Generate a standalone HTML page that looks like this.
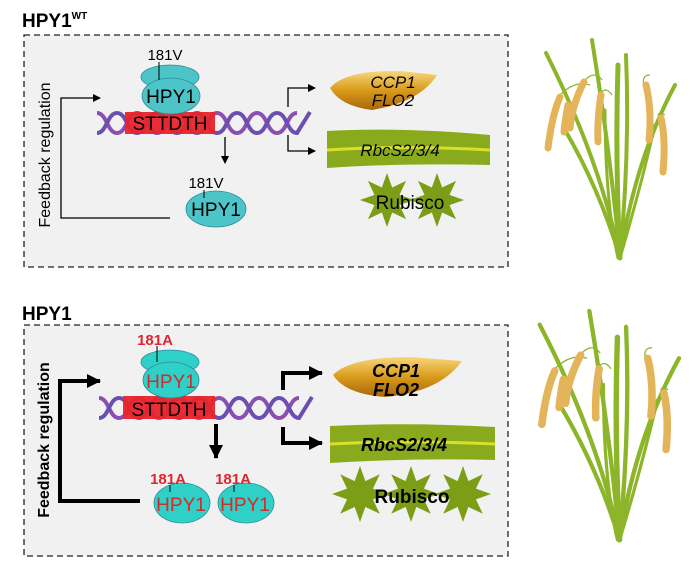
<!DOCTYPE html>
<html><head><meta charset="utf-8"><style>
html,body{margin:0;padding:0;background:#fff;}
svg{display:block;font-family:"Liberation Sans",Arial,sans-serif;}
</style></head><body>
<svg width="700" height="574" viewBox="0 0 700 574" xmlns="http://www.w3.org/2000/svg">
<defs>
<polygon id="star" points="1,0 .462,.191 .707,.707 .191,.462 0,1 -.191,.462 -.707,.707 -.462,.191 -1,0 -.462,-.191 -.707,-.707 -.191,-.462 0,-1 .191,-.462 .707,-.707 .462,-.191"/>
<linearGradient id="seed" x1="0" y1="0" x2="0" y2="1">
<stop offset="0" stop-color="#f7d77a"/><stop offset="0.5" stop-color="#d99a1a"/><stop offset="1" stop-color="#a8670a"/>
</linearGradient>
<marker id="ah" markerWidth="8" markerHeight="8" refX="7" refY="4" orient="auto" markerUnits="userSpaceOnUse"><path d="M0,0 L8,4 L0,8 Z" fill="#000"/></marker>
<marker id="ahb" markerWidth="14" markerHeight="14" refX="13" refY="7" orient="auto" markerUnits="userSpaceOnUse"><path d="M0,0 L14,7 L0,14 Z" fill="#000"/></marker>
<g id="dna">
<path d="M97,113 C107,113 107,133 117,133 S127,113 137,113 S147,133 157,133 S167,113 177,113 S187,133 197,133 S207,113 217,113 S227,133 237,133 S247,113 257,113 S267,133 277,133 S287,113 297,113" fill="none" stroke="#8a4fb0" stroke-width="4"/>
<path d="M97,133 C107,133 107,113 117,113 S127,133 137,133 S147,113 157,113 S167,133 177,133 S187,113 197,113 S207,133 217,133 S227,113 237,113 S247,133 257,133 S267,113 277,113 S287,133 297,133 L310,112" fill="none" stroke="#6a4fb0" stroke-width="4"/>
</g>
<g id="plant">
<g fill="none" stroke="#8db52a" stroke-linecap="round">
<path d="M620,258 Q600,160 546,53" stroke-width="4"/>
<path d="M620,258 Q610,150 592,40" stroke-width="4"/>
<path d="M620,258 Q615,160 618,65" stroke-width="5"/>
<path d="M620,258 Q630,150 626,55" stroke-width="4"/>
<path d="M620,258 Q635,160 675,85" stroke-width="4"/>
<path d="M620,258 Q600,190 565,130" stroke-width="4"/>
<path d="M620,258 Q640,190 655,125" stroke-width="3"/>
<path d="M618,258 Q605,200 605,110" stroke-width="3"/>
</g>
<g fill="none" stroke="#8db52a" stroke-width="1.2">
<path d="M560,95 Q575,80 590,85"/><path d="M585,80 Q595,70 602,80"/><path d="M600,95 Q605,85 612,95"/><path d="M645,90 Q640,75 650,75"/><path d="M660,120 Q655,110 665,115"/>
</g>
<g fill="none" stroke="#e4b45a" stroke-width="7" stroke-linecap="round" stroke-dasharray="5,1">
<path d="M560,97 Q552,115 548,148"/>
<path d="M584,82 Q572,105 570,128"/>
<path d="M601,95 Q597,120 598,142"/>
<path d="M646,85 Q652,110 649,140"/>
<path d="M661,118 Q666,140 663,172"/>
<path d="M568,105 Q565,120 564,132"/>
</g>
</g>
</defs>

<!-- TOP PANEL -->
<text x="22" y="27" font-size="19" font-weight="bold">HPY1<tspan font-size="10" dy="-8">WT</tspan></text>
<rect x="24" y="35" width="484" height="232" fill="#f1f1f1" stroke="#222" stroke-width="1.3" stroke-dasharray="6,4"/>
<text transform="translate(50,155) rotate(-90)" text-anchor="middle" font-size="16">Feedback regulation</text>
<path d="M170,218 L61,218 L61,98 L100,98" fill="none" stroke="#000" stroke-width="1.3" marker-end="url(#ah)"/>
<use href="#dna"/>
<rect x="125" y="112" width="90" height="22" fill="#e8242a" opacity="0.95"/>
<text x="170" y="130" text-anchor="middle" font-size="19">STTDTH</text>
<ellipse cx="170" cy="77" rx="29" ry="12" fill="#4dc5c8" stroke="#2c8c99" stroke-width="0.8"/>
<ellipse cx="171" cy="96" rx="29" ry="18" fill="#4dc5c8" stroke="#2c8c99" stroke-width="0.8"/>
<line x1="159" y1="62" x2="159" y2="80" stroke="#000" stroke-width="1"/>
<text x="165" y="60" text-anchor="middle" font-size="15">181V</text>
<text x="171" y="103" text-anchor="middle" font-size="19">HPY1</text>
<line x1="225" y1="137" x2="225" y2="163" stroke="#000" stroke-width="1.3" marker-end="url(#ah)"/>
<ellipse cx="216" cy="209" rx="30" ry="18" fill="#4dc5c8" stroke="#2c8c99" stroke-width="0.8"/>
<line x1="204" y1="190" x2="204" y2="198" stroke="#000"/>
<text x="206" y="188" text-anchor="middle" font-size="15">181V</text>
<text x="216" y="216" text-anchor="middle" font-size="19">HPY1</text>
<path d="M288,107 L288,88 L315,88" fill="none" stroke="#000" stroke-width="1.3" marker-end="url(#ah)"/>
<path d="M288,135 L288,151 L315,151" fill="none" stroke="#000" stroke-width="1.3" marker-end="url(#ah)"/>
<path d="M330,88 Q345,70 400,71 L437,75 Q420,102 372,110 Q340,106 330,88 Z" fill="url(#seed)"/>
<text x="393" y="88" text-anchor="middle" font-size="17" font-style="italic">CCP1</text>
<text x="393" y="106" text-anchor="middle" font-size="17" font-style="italic">FLO2</text>
<path d="M327,131 Q400,127 490,135 L490,165 Q400,163 327,168 Z" fill="#8aaa1e"/>
<path d="M327,150 Q400,145 490,150" stroke="#d8e02a" stroke-width="3" fill="none"/>
<text x="400" y="156" text-anchor="middle" font-size="17" font-style="italic">RbcS2/3/4</text>
<use href="#star" transform="translate(387,200) scale(27)" fill="#7c9e17"/>
<use href="#star" transform="translate(437,200) scale(27)" fill="#7c9e17"/>
<text x="410" y="209" text-anchor="middle" font-size="19">Rubisco</text>
<use href="#plant"/>

<!-- BOTTOM PANEL -->
<text x="22" y="320" font-size="19" font-weight="bold">HPY1</text>
<rect x="24" y="325" width="484" height="231" fill="#f1f1f1" stroke="#222" stroke-width="1.3" stroke-dasharray="6,4"/>
<text transform="translate(49,440) rotate(-90)" text-anchor="middle" font-size="16" font-weight="bold">Feedback regulation</text>
<path d="M140,501 L60,501 L60,381 L100,381" fill="none" stroke="#000" stroke-width="4" marker-end="url(#ahb)"/>
<use href="#dna" transform="translate(2,285)"/>
<rect x="123" y="396" width="92" height="23" fill="#e8242a" opacity="0.95"/>
<text x="169" y="416" text-anchor="middle" font-size="19">STTDTH</text>
<ellipse cx="170" cy="362" rx="29" ry="12" fill="#2fd0c8" stroke="#2c8c99" stroke-width="0.8"/>
<ellipse cx="171" cy="380" rx="28" ry="18" fill="#2fd0c8" stroke="#2c8c99" stroke-width="0.8"/>
<line x1="157" y1="346" x2="157" y2="362" stroke="#000"/>
<text x="155" y="345" text-anchor="middle" font-size="15" font-weight="bold" fill="#e02530">181A</text>
<text x="171" y="388" text-anchor="middle" font-size="19" fill="#d42a2a">HPY1</text>
<line x1="216" y1="424" x2="216" y2="458" stroke="#000" stroke-width="4" marker-end="url(#ahb)"/>
<ellipse cx="182" cy="503" rx="28" ry="20" fill="#2fd0c8" stroke="#2c8c99" stroke-width="0.8"/>
<ellipse cx="246" cy="503" rx="28" ry="20" fill="#2fd0c8" stroke="#2c8c99" stroke-width="0.8"/>
<line x1="170" y1="485" x2="170" y2="492" stroke="#000"/>
<line x1="234" y1="485" x2="234" y2="492" stroke="#000"/>
<text x="168" y="484" text-anchor="middle" font-size="15" font-weight="bold" fill="#e02530">181A</text>
<text x="233" y="484" text-anchor="middle" font-size="15" font-weight="bold" fill="#e02530">181A</text>
<text x="181" y="511" text-anchor="middle" font-size="19" fill="#d42a2a">HPY1</text>
<text x="245" y="511" text-anchor="middle" font-size="19" fill="#d42a2a">HPY1</text>
<path d="M283,390 L283,373 L322,373" fill="none" stroke="#000" stroke-width="4" marker-end="url(#ahb)"/>
<path d="M283,427 L283,443 L322,443" fill="none" stroke="#000" stroke-width="4" marker-end="url(#ahb)"/>
<path d="M333,375 Q350,357 410,357 L462,361 Q440,392 385,397 Q345,394 333,375 Z" fill="url(#seed)"/>
<text x="396" y="377" text-anchor="middle" font-size="18" font-weight="bold" font-style="italic">CCP1</text>
<text x="396" y="396" text-anchor="middle" font-size="18" font-weight="bold" font-style="italic">FLO2</text>
<path d="M330,426 Q410,422 495,427 L495,460 Q410,458 330,463 Z" fill="#8aaa1e"/>
<path d="M330,444 Q410,440 495,444" stroke="#d8e02a" stroke-width="3" fill="none"/>
<text x="404" y="451" text-anchor="middle" font-size="18" font-weight="bold" font-style="italic">RbcS2/3/4</text>
<use href="#star" transform="translate(360,494) scale(28)" fill="#7c9e17"/>
<use href="#star" transform="translate(411,494) scale(28)" fill="#7c9e17"/>
<use href="#star" transform="translate(463,494) scale(28)" fill="#7c9e17"/>
<text x="412" y="503" text-anchor="middle" font-size="19" font-weight="bold">Rubisco</text>
<use href="#plant" transform="translate(-50,290) scale(1.08,1.05) translate(0,-20)"/>
</svg>
</body></html>
